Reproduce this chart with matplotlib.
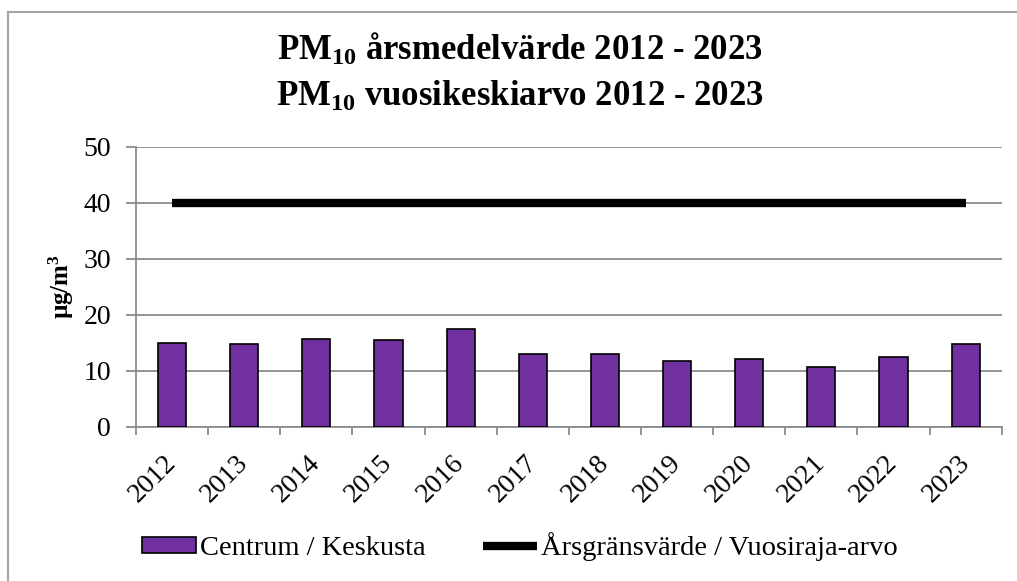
import matplotlib.pyplot as plt
import matplotlib.transforms as mtransforms
import numpy as np

plt.rcParams['font.family'] = 'Liberation Serif'
plt.rcParams['mathtext.fontset'] = 'custom'
plt.rcParams['mathtext.rm'] = 'Liberation Serif:bold'
plt.rcParams['mathtext.default'] = 'rm'

years = ['2012', '2013', '2014', '2015', '2016', '2017', '2018', '2019', '2020', '2021', '2022', '2023']
centrum = [15.0, 14.7, 15.7, 15.4, 17.5, 12.9, 12.9, 11.8, 12.1, 10.7, 12.5, 14.7]
limit = [40] * len(years)

grid_col = '#8c8c8c'

fig = plt.figure(figsize=(10.17, 5.81), dpi=100)
ax = fig.add_axes([0.1337, 0.2656, 0.8513, 0.4819])

x = np.arange(len(years))
ax.bar(x, centrum, width=0.39, color='#7030A0', edgecolor='black', linewidth=1.2,
       label='Centrum / Keskusta', zorder=3)
ax.plot(x, limit, color='black', linewidth=6, solid_capstyle='butt',
        label='Årsgränsvärde / Vuosiraja-arvo', zorder=4)

ax.set_xlim(-0.5, len(years) - 0.5)
ax.set_ylim(0, 50)
ax.set_yticks(range(0, 51, 10))
ax.yaxis.grid(True, color=grid_col, linewidth=1.3, zorder=0)
ax.set_axisbelow(True)
ax.set_xticks(x)
ax.set_xticklabels(years, rotation=45, fontsize=20, ha='right', va='top')
ax.set_xticks(np.arange(-0.5, len(years)), minor=True)
ax.tick_params(axis='x', which='major', length=0, pad=17)
ax.tick_params(axis='x', which='minor', length=6, color=grid_col, width=1.3, direction='out')
ax.tick_params(axis='y', length=7, color=grid_col, width=1.3, labelsize=20, pad=11)

# nudge the rotated year labels to the right, as in the original
shift = mtransforms.ScaledTranslation(9 / 100, 0, fig.dpi_scale_trans)
for lbl in ax.get_xticklabels():
    lbl.set_transform(lbl.get_transform() + shift)

for s in ['top', 'right']:
    ax.spines[s].set_visible(False)
for s in ['left', 'bottom']:
    ax.spines[s].set_color(grid_col)
    ax.spines[s].set_linewidth(1.3)

ax.set_ylabel(r'µg/m$^3$', fontsize=18, fontweight='bold', labelpad=5)

fig.text(0.511, 1 - 50 / 581, r'PM$_{10}$ årsmedelvärde 2012 - 2023', ha='center', va='center',
         fontsize=25, fontweight='bold')
fig.text(0.511, 1 - 97 / 581, r'PM$_{10}$ vuosikeskiarvo 2012 - 2023', ha='center', va='center',
         fontsize=25, fontweight='bold')

handles, labels = ax.get_legend_handles_labels()
order = [1, 0] if labels[0].startswith('Å') else [0, 1]
fig.legend([handles[i] for i in order], [labels[i] for i in order],
           loc='center', bbox_to_anchor=(0.511, 1 - 547 / 581), ncol=2, frameon=False,
           fontsize=20.5, handlelength=1.9, handleheight=0.5, handletextpad=0.15,
           columnspacing=2.0, borderaxespad=0)

# outer frame of chart area (left and top edges visible)
fig.add_artist(plt.Line2D([0.008, 0.008], [0, 0.979], color='#a6a6a6', linewidth=1.5))
fig.add_artist(plt.Line2D([0.008, 1.0], [0.979, 0.979], color='#a6a6a6', linewidth=1.5))

fig.savefig('out.png', dpi=100)
